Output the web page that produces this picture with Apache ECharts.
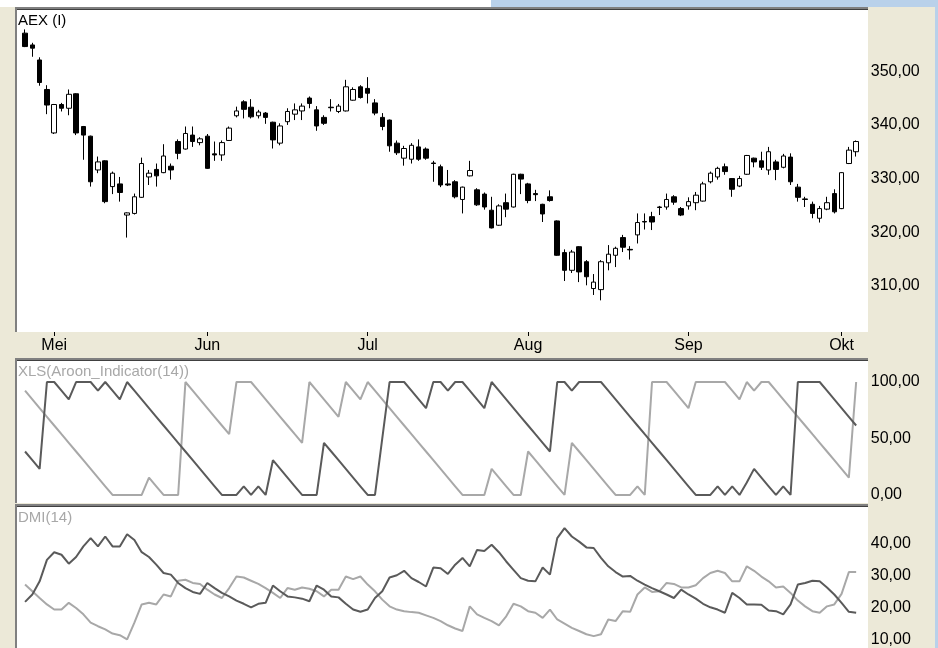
<!DOCTYPE html>
<html>
<head>
<meta charset="utf-8">
<script src="https://cdn.jsdelivr.net/npm/echarts@6/dist/echarts.min.js"></script>
<style>
html,body{margin:0;padding:0;background:#ECE9D8;overflow:hidden;}
#c{width:938px;height:648px;}
</style>
</head>
<body>
<div id="c"></div>
<script>
// ---- AEX (I) daily candles (trading-day order) ----
const opens = [357.1,354.9,352.1,346.6,338.5,343.8,343.1,345.8,339.7,337.9,331.6,333.3,328.5,329.0,323.2,323.5,326.5,330.3,331.7,331.1,
332.3,336.9,335.5,338.1,336.7,337.9,334.6,334.4,337.1,341.7,344.3,343.3,341.7,342.2,340.5,336.6,340.6,342.0,342.6,345.0,
342.8,341.4,343.3,342.5,342.6,344.6,347.1,346.8,344.1,341.4,340.9,336.6,333.8,333.6,335.9,335.5,332.9,332.2,329.0,329.4,
326.1,330.5,327.9,327.1,324.1,321.3,325.5,324.7,330.8,329.0,327.2,325.2,326.6,322.1,316.2,312.9,317.3,314.5,309.5,309.3,
314.3,315.7,319.0,316.8,319.5,322.0,322.9,324.7,324.7,326.6,324.4,324.9,325.5,325.8,329.4,330.3,332.2,330.0,328.6,330.8,
333.8,333.3,331.6,333.1,332.1,334.0,328.4,326.2,325.2,322.6,324.3,327.2,324.4,332.8,335.0];
const closes = [354.6,354.3,347.9,343.7,343.8,343.1,345.7,338.5,338.1,329.4,333.1,325.7,331.0,327.4,323.6,326.6,332.8,331.0,330.5,334.2,
331.6,334.7,338.4,336.9,337.4,331.9,334.4,336.7,339.4,342.6,342.9,341.5,342.4,341.4,337.2,339.8,342.5,342.8,343.5,344.0,
339.8,340.3,343.2,343.5,347.1,346.6,345.1,345.9,342.2,339.7,336.1,334.8,335.6,336.2,333.6,333.8,332.8,328.8,328.8,326.6,
328.4,331.5,325.1,324.7,320.8,324.9,324.3,330.8,329.9,325.9,327.0,323.4,325.9,315.7,312.9,316.3,312.6,311.7,310.7,314.5,
315.9,317.0,317.2,316.7,321.8,321.9,321.9,324.6,326.1,325.6,323.2,325.7,326.9,329.0,331.0,331.9,331.3,328.0,330.0,334.3,
333.1,332.1,335.0,331.7,334.2,329.4,326.5,326.1,323.5,324.4,325.5,323.8,331.1,335.3,336.9];
const lows = [354.5,352.7,347.3,342.0,338.3,342.5,341.8,338.1,333.5,328.5,331.0,325.4,327.1,325.7,319.0,323.3,326.4,328.8,328.5,331.0,
329.8,333.6,335.4,335.9,336.2,331.8,333.3,333.3,337.0,341.4,341.2,341.2,341.2,340.2,335.6,336.2,340.0,340.9,340.9,343.1,
338.9,340.0,342.5,342.2,342.5,344.5,344.9,344.0,341.8,339.0,335.0,334.4,332.4,332.8,333.3,333.5,329.4,328.4,328.6,326.3,
323.5,330.4,324.9,324.2,320.7,321.2,322.8,324.6,327.1,325.4,325.8,321.9,325.7,315.6,310.9,312.4,310.7,310.1,308.3,307.3,
312.9,313.5,316.3,314.9,317.9,320.5,320.4,323.2,324.2,325.1,323.0,324.2,324.1,325.7,329.1,329.8,330.7,326.6,328.4,330.7,
332.1,331.6,330.7,329.7,331.9,328.8,325.7,324.7,322.6,321.8,324.1,323.5,324.3,332.7,334.1];
const highs = [357.8,355.3,352.6,347.4,343.9,344.1,346.6,345.9,339.8,338.0,334.1,333.4,331.3,330.3,323.7,327.2,333.9,331.6,332.8,336.4,
332.8,337.3,339.7,339.7,337.7,338.3,336.9,337.1,339.7,343.4,344.6,344.8,342.8,342.4,340.6,340.3,343.1,344.0,344.0,345.3,
343.5,341.8,344.8,343.9,348.4,347.0,347.4,348.9,344.8,342.2,341.0,337.1,336.1,336.6,337.3,335.8,333.3,332.6,331.6,329.7,
328.5,333.3,328.2,327.4,326.6,325.2,327.2,330.9,330.9,329.2,327.9,325.3,327.8,322.2,316.8,316.7,317.4,314.8,312.2,314.8,
317.6,317.3,319.5,317.4,323.5,323.5,323.8,324.9,327.2,326.9,324.7,326.5,327.5,329.4,331.3,332.2,332.8,330.1,330.5,334.4,
333.9,335.0,335.9,333.5,334.6,334.7,329.0,326.6,325.7,324.9,326.6,328.0,331.2,335.9,337.1];

// ---- XLS(Aroon_Indicator(14)) ----
const aroonDown = [38.5,30.8,23.1,100,100,92.3,84.6,100,100,100,92.3,100,92.3,84.6,100,92.3,84.6,76.9,69.2,61.5,
53.8,46.2,38.5,30.8,23.1,15.4,7.7,0,0,0,7.7,0,7.7,0,30.8,23.1,15.4,7.7,0,0,
0,46.2,38.5,30.8,23.1,15.4,7.7,0,0,50,100,100,100,92.3,84.6,76.9,100,100,92.3,100,
100,92.3,84.6,76.9,100,92.3,84.6,76.9,69.2,61.5,53.8,46.2,38.5,100,100,92.3,100,100,100,100,
92.3,84.6,76.9,69.2,61.5,53.8,46.2,38.5,30.8,23.1,15.4,7.7,0,0,0,7.7,0,7.7,0,11,
23.1,15.4,7.7,0,7.7,0,100,100,100,100,92.3,84.6,76.9,69.2,61.5];
const aroonUp = [92.3,84.6,76.9,69.2,61.5,53.8,46.2,38.5,30.8,23.1,15.4,7.7,0,0,0,0,0,15.4,7.7,0,
0,0,100,92.3,84.6,76.9,69.2,61.5,53.8,100,100,100,92.3,84.6,76.9,69.2,61.5,53.8,46.2,100,
92.3,84.6,76.9,69.2,100,92.3,84.6,100,92.3,84.6,76.9,69.2,61.5,53.8,46.2,38.5,30.8,23.1,15.4,7.7,
0,0,0,0,23.1,15.4,7.7,0,0,38.5,30.8,23.1,15.4,7.7,0,46.2,38.5,30.8,23.1,15.4,
7.7,0,0,0,7.7,0,100,100,100,92.3,84.6,76.9,100,100,100,100,100,92.3,84.6,100,
92.3,100,100,92.3,84.6,76.9,69.2,61.5,53.8,46.2,38.5,30.8,23.1,15.4,100];

// ---- DMI(14) ----
const diMinus = [21.9,24.2,28.3,35.0,37.4,36.6,33.8,35.9,39.2,41.8,39.2,42.3,39.2,39.2,43.0,41.2,37.4,35.9,33.5,30.9,
30.4,27.8,26.2,25.0,24.4,27.8,26.2,24.7,23.6,22.3,21.3,20.2,21.3,21.6,27.0,25.2,23.6,23.3,22.9,22.1,
27.0,25.7,23.6,23.3,21.3,19.5,18.8,19.5,23.1,25.2,29.5,30.2,31.6,29.3,28.1,26.7,32.6,32.4,30.6,33.5,
35.6,33.0,38.1,37.8,39.7,37.4,34.5,31.9,29.3,28.5,28.3,32.6,30.4,41.8,44.9,42.3,40.7,38.9,38.7,35.6,
33.0,31.2,29.8,30.0,28.5,27.3,26.2,25.2,24.2,23.1,25.7,24.2,22.9,21.3,20.2,19.5,18.5,24.7,23.1,21.1,
21.1,21.0,19.2,19.0,18.0,21.1,27.3,27.8,28.5,28.3,26.4,24.2,21.6,18.8,18.5];
const diPlus = [27.3,25.2,23.1,21.1,19.5,19.5,21.6,20.0,18.0,15.4,14.3,13.3,12.0,11.5,10.2,15.4,21.1,21.6,21.1,24.2,
23.6,28.5,28.8,27.8,27.5,25.7,24.2,23.1,26.2,29.8,29.5,28.5,27.5,26.2,24.7,23.1,26.2,25.7,26.4,26.0,
25.2,23.6,25.7,25.7,29.8,29.0,29.8,27.3,25.2,22.6,20.5,19.5,19.0,18.7,18.5,17.7,16.9,15.9,14.6,13.6,
12.8,20.5,18.0,16.9,15.9,14.6,17.4,21.3,20.5,19.0,18.5,16.9,19.5,16.4,15.1,13.8,12.8,11.8,11.2,11.8,
16.4,15.9,19.0,18.8,24.2,26.4,25.0,25.2,27.8,27.5,26.4,26.4,27.1,29.3,30.9,31.6,30.9,28.3,28.3,33.0,
31.6,29.8,28.3,26.4,26.7,24.7,22.3,20.5,19.0,18.5,20.5,21.1,24.4,31.2,31.2];

// ---- axis labels ----
const monthLabels = ['Mei','Jun','Jul','Aug','Sep','Okt'];
const monthStartIdx = [4,25,47,69,91,112];
const priceTicks = [310,320,330,340,350];
const aroonTicks = [0,50,100];
const dmiTicks = [10,20,30,40];
const panelTitles = ['AEX (I)','XLS(Aroon_Indicator(14))','DMI(14)'];

const days = opens.map((_, i) => String(i));
const candleData = opens.map((o, i) => [o, closes[i], lows[i], highs[i]]);
const fmt = v => v.toFixed(2).replace('.', ',');
const isMonthStart = idx => monthStartIdx.indexOf(idx) >= 0;

const FONT = '"Liberation Sans", Arial, sans-serif';
const GL = 21.4, GW = 838.4;
const panels = [
  {top: 9, h: 323},
  {top: 361, h: 142},
  {top: 507, h: 141}
];

function hiddenX(gi){
  return {type:'category', gridIndex: gi, data: days, boundaryGap: true, show: false};
}
function rightY(gi, min, max, ticks){
  return {type:'value', gridIndex: gi, position:'right', min: min, max: max, scale: true,
    splitLine:{show:false}, axisLine:{show:false}, axisTick:{show:false},
    axisLabel:{customValues: ticks, formatter: v => fmt(v), margin: 11, color:'#000',
      fontSize: 16, fontFamily: FONT}};
}

const graphics = [];
// top strip
graphics.push({type:'rect', shape:{x:0,y:0,width:491,height:7}, style:{fill:'#FFFFFF'}, z:-10});
graphics.push({type:'rect', shape:{x:491,y:0,width:447,height:7}, style:{fill:'#B9D1EA'}, z:-10});
graphics.push({type:'rect', shape:{x:935,y:0,width:3,height:648}, style:{fill:'#B9D1EA'}, z:-10});
const panelBoxes = [[7,332],[358,503],[504,648]];
panelBoxes.forEach(([t,b]) => {
  graphics.push({type:'rect', shape:{x:15,y:t,width:853,height:b-t}, style:{fill:'#FFFFFF'}, z:-5});
  graphics.push({type:'rect', shape:{x:15,y:t,width:853,height:2}, style:{fill:'#808080'}, z:-4});
  graphics.push({type:'rect', shape:{x:15,y:t+2,width:853,height:1}, style:{fill:'#404040'}, z:-4});
  graphics.push({type:'rect', shape:{x:15,y:t,width:2,height:b-t}, style:{fill:'#808080'}, z:-4});
});

const option = {
  backgroundColor: '#ECE9D8',
  animation: false,
  title: [
    {text: panelTitles[0], left: 18, top: 13, padding: 0, textStyle:{fontSize:15, fontWeight:'normal', color:'#000', fontFamily: FONT}},
    {text: panelTitles[1], left: 18, top: 364, padding: 0, textStyle:{fontSize:15, fontWeight:'normal', color:'#A8A8A8', fontFamily: FONT}},
    {text: panelTitles[2], left: 18, top: 510, padding: 0, textStyle:{fontSize:15, fontWeight:'normal', color:'#A8A8A8', fontFamily: FONT}}
  ],
  graphic: graphics,
  grid: panels.map(p => ({left: GL, width: GW, top: p.top, height: p.h, containLabel: false})),
  xAxis: [
    {type:'category', gridIndex:0, data: days, boundaryGap: true,
      axisLine:{show:false},
      axisTick:{show:true, alignWithLabel:true, length:4, interval: (i) => isMonthStart(i), lineStyle:{color:'#000', width:1}},
      axisLabel:{interval: (i) => isMonthStart(i), formatter: (v, i) => monthLabels[monthStartIdx.indexOf(i)] || '',
        margin: 6, color:'#000', fontSize: 16, fontFamily: FONT},
      splitLine:{show:false}},
    hiddenX(1), hiddenX(2)
  ],
  yAxis: [
    rightY(0, 301.4, 361.6, priceTicks),
    rightY(1, -7.1, 118.6, aroonTicks),
    rightY(2, 7.7, 51.5, dmiTicks)
  ],
  series: [
    {type:'candlestick', xAxisIndex:0, yAxisIndex:0, data: candleData, barWidth: 5,
      itemStyle:{color:'#FFFFFF', color0:'#000000', borderColor:'#000000', borderColor0:'#000000', borderWidth:1}},
    {type:'line', xAxisIndex:1, yAxisIndex:1, data: aroonUp, symbol:'none', lineStyle:{color:'#A8A8A8', width:2}},
    {type:'line', xAxisIndex:1, yAxisIndex:1, data: aroonDown, symbol:'none', lineStyle:{color:'#5A5A5A', width:2}},
    {type:'line', xAxisIndex:2, yAxisIndex:2, data: diPlus, symbol:'none', lineStyle:{color:'#A8A8A8', width:2}},
    {type:'line', xAxisIndex:2, yAxisIndex:2, data: diMinus, symbol:'none', lineStyle:{color:'#5A5A5A', width:2}}
  ]
};
const chart = echarts.init(document.getElementById('c'), null, {renderer:'canvas'});
chart.setOption(option);
</script>
</body>
</html>
